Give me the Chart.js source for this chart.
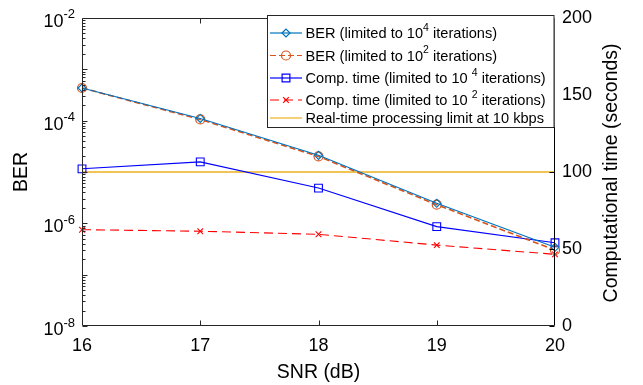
<!DOCTYPE html>
<html>
<head>
<meta charset="utf-8">
<script src="https://cdn.jsdelivr.net/npm/chart.js@4.4.0/dist/chart.umd.min.js"></script>
<style>
  html, body { margin: 0; padding: 0; background: #fff; }
  #wrap { width: 643px; height: 385px; position: relative; }
</style>
</head>
<body>
<div id="wrap"><canvas id="berChart"></canvas></div>
<script>
// SNR (dB) along the x axis
const snrLabels = ['16', '17', '18', '19', '20'];

// BER curves (left, log axis)
const berIter4 = [4.3e-4, 1.1e-4, 2.1e-5, 2.45e-6, 3.4e-7];
const berIter2 = [4.3e-4, 1.05e-4, 2.0e-5, 2.3e-6, 3.0e-7];

// Computational time curves in seconds (right axis)
const timeIter4 = [102, 106.5, 89.5, 64.5, 54];
const timeIter2 = [62.5, 61.5, 59.5, 52.5, 46.5];
const realTimeLimit = [100, 100, 100, 100, 100];

// Tick labels
const berExponents = [-2, -4, -6, -8];
const timeTicks = [0, 50, 100, 150, 200];

const FONT = '"Liberation Sans", Arial, Helvetica, sans-serif';
const AXIS_GREY = '#262626';

const legendItems = [
  { parts: [['BER (limited to 10'], ['4', 1], [' iterations)']], color: '#0072BD', style: 'rectRot', r: 4, dash: [] },
  { parts: [['BER (limited to 10'], ['2', 1], [' iterations)']], color: '#D95319', style: 'circle', r: 4.5, dash: [6, 3] },
  { parts: [['Comp. time (limited to 10 '], ['4', 1], [' iterations)']], color: '#0000FF', style: 'rect', r: 5.5, dash: [] },
  { parts: [['Comp. time (limited to 10 '], ['2', 1], [' iterations)']], color: '#FF0000', style: 'crossRot', r: 4, dash: [9, 5] },
  { parts: [['Real-time processing limit at 10 kbps']], color: '#EDB120', style: false, r: 0, dash: [] }
];

function drawRich(ctx, parts, x, y, size) {
  parts.forEach(p => {
    const sup = p[1] === 1;
    ctx.font = (sup ? size * 0.72 : size) + 'px ' + FONT;
    ctx.fillText(p[0], x, sup ? y - size * 0.42 : y);
    x += ctx.measureText(p[0]).width;
  });
}

// MATLAB style box, inward ticks, log labels, titles and legend
const matlabAxes = {
  id: 'matlabAxes',
  afterDraw(chart) {
    const ctx = chart.ctx;
    const a = chart.chartArea;
    const xs = chart.scales.x, ys = chart.scales.y, y2 = chart.scales.y2;
    ctx.save();
    ctx.lineWidth = 1;
    ctx.strokeStyle = AXIS_GREY;
    const L = Math.round(a.left) + 0.5, R = Math.round(a.right) - 0.5;
    const T = Math.round(a.top) + 0.5, B = Math.round(a.bottom) - 0.5;
    ctx.beginPath();
    ctx.moveTo(R, T); ctx.lineTo(L, T); ctx.lineTo(L, B); ctx.lineTo(R, B);
    // x ticks, bottom and top (inner ones only, the ends sit on the box)
    snrLabels.forEach((lab, i) => {
      if (i === 0 || i === snrLabels.length - 1) return;
      const px = Math.round(xs.getPixelForValue(i)) + 0.5;
      ctx.moveTo(px, B); ctx.lineTo(px, B - 5);
      ctx.moveTo(px, T); ctx.lineTo(px, T + 5);
    });
    // log ticks on the left
    for (let e = -8; e <= -2; e++) {
      const py = Math.round(ys.getPixelForValue(Math.pow(10, e))) + 0.5;
      ctx.moveTo(L, py); ctx.lineTo(L + 5, py);
      if (e < -2) {
        for (let m = 2; m <= 9; m++) {
          const my = Math.round(ys.getPixelForValue(m * Math.pow(10, e))) + 0.5;
          ctx.moveTo(L, my); ctx.lineTo(L + 3, my);
        }
      }
    }
    ctx.stroke();
    // right axis in black
    ctx.strokeStyle = '#000';
    ctx.beginPath();
    ctx.moveTo(R, T); ctx.lineTo(R, B);
    timeTicks.forEach(v => {
      const py = Math.round(y2.getPixelForValue(v)) + 0.5;
      ctx.moveTo(R, py); ctx.lineTo(R - 5, py);
    });
    ctx.stroke();

    // left log labels 10^e
    ctx.fillStyle = '#000';
    ctx.textBaseline = 'middle';
    ctx.textAlign = 'left';
    berExponents.forEach(e => {
      const py = ys.getPixelForValue(Math.pow(10, e));
      const ex = String(e);
      ctx.font = '13px ' + FONT;
      const we = ctx.measureText(ex).width;
      ctx.fillText(ex, 75 - we, py - 3);
      ctx.font = '18px ' + FONT;
      const wb = ctx.measureText('10').width;
      ctx.fillText('10', 75 - we - wb, py + 4);
    });

    // axis titles
    ctx.font = '19.5px ' + FONT;
    ctx.textAlign = 'center';
    ctx.fillText('SNR (dB)', (a.left + a.right) / 2, 373);
    ctx.save();
    ctx.translate(22, (a.top + a.bottom) / 2);
    ctx.rotate(-Math.PI / 2);
    ctx.fillText('BER', 0, 0);
    ctx.restore();
    ctx.save();
    ctx.translate(612, (a.top + a.bottom) / 2 + 1);
    ctx.rotate(-Math.PI / 2);
    ctx.fillText('Computational time (seconds)', 0, 0);
    ctx.restore();

    // legend
    const lx = 267, ly = 15, lw = R - lx, lh = 112;
    ctx.fillStyle = '#fff';
    ctx.fillRect(lx, ly, lw, lh);
    ctx.strokeStyle = AXIS_GREY;
    ctx.strokeRect(lx + 0.5, ly + 0.5, lw - 1, lh);
    const rows = [33, 55.5, 78, 100, 118];
    legendItems.forEach((it, i) => {
      const yy = rows[i];
      ctx.strokeStyle = it.color;
      ctx.lineWidth = 1.2;
      ctx.setLineDash(it.dash);
      ctx.beginPath();
      ctx.moveTo(270, yy); ctx.lineTo(302, yy);
      ctx.stroke();
      ctx.setLineDash([]);
      if (it.style) {
        ctx.fillStyle = 'rgba(0,0,0,0)';
        Chart.helpers.drawPoint(ctx, { pointStyle: it.style, radius: it.r, borderWidth: 1.2, rotation: 0 }, 286, yy);
      }
      ctx.fillStyle = '#000';
      ctx.textAlign = 'left';
      ctx.textBaseline = 'middle';
      drawRich(ctx, it.parts, 305.5, yy + 1, 14.6);
    });
    ctx.restore();
  }
};

new Chart(document.getElementById('berChart'), {
  type: 'line',
  data: {
    labels: snrLabels,
    datasets: [
      {
        label: 'BER (limited to 10^4 iterations)', data: berIter4, yAxisID: 'y',
        borderColor: '#0072BD', borderWidth: 1.1, pointStyle: 'rectRot', pointRadius: 4,
        pointBorderColor: '#0072BD', pointBackgroundColor: 'rgba(0,0,0,0)', pointBorderWidth: 1.1
      },
      {
        label: 'BER (limited to 10^2 iterations)', data: berIter2, yAxisID: 'y',
        borderColor: '#D95319', borderWidth: 1.6, borderDash: [6, 3], pointStyle: 'circle', pointRadius: 4.5,
        pointBorderColor: '#D95319', pointBackgroundColor: 'rgba(0,0,0,0)', pointBorderWidth: 1.2
      },
      {
        label: 'Comp. time (limited to 10^4 iterations)', data: timeIter4, yAxisID: 'y2',
        borderColor: '#0000FF', borderWidth: 1.1, pointStyle: 'rect', pointRadius: 5.5,
        pointBorderColor: '#0000FF', pointBackgroundColor: 'rgba(0,0,0,0)', pointBorderWidth: 1.1
      },
      {
        label: 'Comp. time (limited to 10^2 iterations)', data: timeIter2, yAxisID: 'y2',
        borderColor: '#FF0000', borderWidth: 1.1, borderDash: [9, 5], pointStyle: 'crossRot', pointRadius: 4,
        pointBorderColor: '#FF0000', pointBorderWidth: 1.1
      },
      {
        label: 'Real-time processing limit at 10 kbps', data: realTimeLimit, yAxisID: 'y2',
        borderColor: '#EDB120', borderWidth: 1.5, pointRadius: 0
      }
    ]
  },
  options: {
    responsive: true,
    maintainAspectRatio: false,
    animation: false,
    layout: { padding: { top: 14, left: 0, right: 0, bottom: 0 } },
    elements: { line: { tension: 0 } },
    datasets: { line: { clip: false } },
    plugins: { legend: { display: false }, tooltip: { enabled: false } },
    scales: {
      x: {
        type: 'category',
        offset: false,
        grid: { display: false, drawTicks: false },
        border: { display: false },
        ticks: { color: '#000', font: { family: FONT, size: 18 }, padding: 9, maxRotation: 0 },
        afterFit: s => { s.height = 59; }
      },
      y: {
        type: 'logarithmic',
        position: 'left',
        min: 1e-8,
        max: 1e-2,
        grid: { display: false, drawTicks: false },
        border: { display: false },
        ticks: { display: false },
        afterFit: s => { s.width = 82; }
      },
      y2: {
        type: 'linear',
        position: 'right',
        min: 0,
        max: 200,
        grid: { display: false, drawTicks: false },
        border: { display: false },
        ticks: { color: '#000', font: { family: FONT, size: 18 }, stepSize: 50, padding: 7 },
        afterFit: s => { s.width = 88; }
      }
    }
  },
  plugins: [matlabAxes]
});
</script>
</body>
</html>
